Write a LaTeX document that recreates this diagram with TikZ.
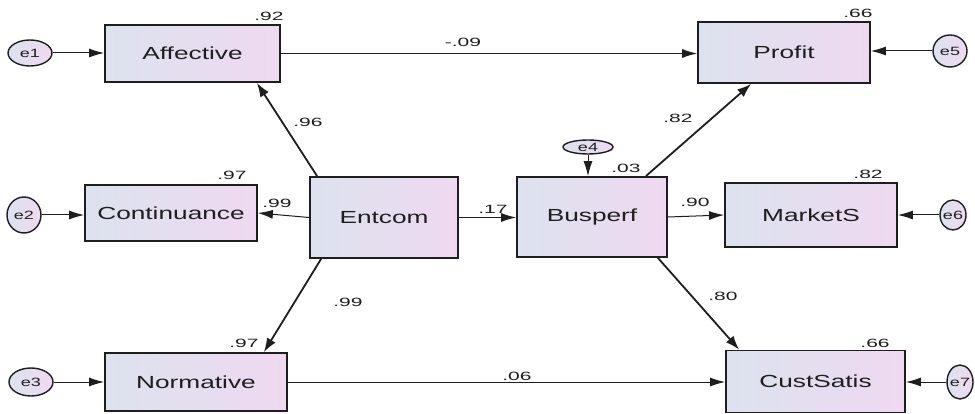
\documentclass[tikz,border=0pt]{standalone}
\usepackage{fontspec}
\setmainfont[FakeStretch=1.5]{Liberation Sans}
\newfontfamily\numfont[FakeStretch=1.75]{Liberation Sans}
\usetikzlibrary{shapes.geometric,arrows.meta,calc}
\definecolor{boxL}{HTML}{DCE2EE}
\definecolor{boxR}{HTML}{EFD9F1}
\definecolor{edge}{HTML}{1E1E1E}
\begin{document}
\begin{tikzpicture}[x=1pt,y=-1pt,
  var/.style={draw=edge,line width=1.8pt,left color=boxL,right color=boxR,inner sep=0pt,text=edge,font=\fontsize{17.5}{17.5}\selectfont},
  err/.style={ellipse,draw=edge,line width=1.4pt,left color=boxL,right color=boxR,inner sep=0pt},
  etext/.style={font=\fontsize{12}{12}\selectfont,inner sep=0pt,text=edge},
  conn/.style={draw=edge,line width=1.0pt,-{Latex[length=15pt,width=9pt]}},
  dconn/.style={draw=edge,line width=1.8pt,-{Latex[length=14pt,width=10pt]}},
  num/.style={font=\numfont\fontsize{12}{12}\selectfont,inner sep=0pt,text=edge},
]
\fill[white] (0,0) rectangle (975,414);
\useasboundingbox (0,0) rectangle (975,414);

% observed / latent variables
\node[var,minimum width=175pt,minimum height=57pt] (aff) at (192.5,53.5) {Affective};
\node[var,minimum width=172pt,minimum height=56pt] (con) at (171,213) {Continuance};
\node[var,minimum width=182pt,minimum height=58pt] (nor) at (196,382) {Normative};
\node[var,minimum width=148pt,minimum height=81pt] (ent) at (384,217.5) {Entcom};
\node[var,minimum width=150pt,minimum height=80pt] (bus) at (592,217) {Busperf};
\node[var,minimum width=172pt,minimum height=61pt] (pro) at (784,52.5) {Profit};
\node[var,minimum width=172pt,minimum height=64pt] (mkt) at (811,215) {MarketS};
\node[var,minimum width=179pt,minimum height=62pt] (cus) at (815.5,381.5) {CustSatis};

% error terms
\node[err,minimum width=44pt,minimum height=26pt,label={[etext]center:e1}] (e1) at (30,53) {};
\node[err,minimum width=34pt,minimum height=36pt,label={[etext]center:e2}] (e2) at (24,215) {};
\node[err,minimum width=44pt,minimum height=28pt,label={[etext]center:e3}] (e3) at (31,382) {};
\node[err,minimum width=50pt,minimum height=14pt,label={[etext]center:e4}] (e4) at (588,147) {};
\node[err,minimum width=34pt,minimum height=32pt,label={[etext]center:e5}] (e5) at (950,51) {};
\node[err,minimum width=26pt,minimum height=30pt,label={[etext]center:e6}] (e6) at (953,215) {};
\node[err,minimum width=26pt,minimum height=34pt,label={[etext]center:e7}] (e7) at (960,382) {};

% error arrows
\draw[conn] (e1) -- (e1 -| aff.west);
\draw[conn] (e2) -- (e2 -| con.west);
\draw[conn] (e3) -- (e3 -| nor.west);
\draw[conn] (e5) -- (e5 -| pro.east);
\draw[conn] (e6) -- (e6 -| mkt.east);
\draw[conn] (e7) -- (e7 -| cus.east);
\draw[conn] (e4) -- (e4 |- bus.north);

% structural paths
\draw[conn] (aff.east) -- (aff.east -| pro.west);
\draw[conn] (nor.east) -- (nor.east -| cus.west);
\draw[conn] (ent.east) -- (ent.east -| bus.west);
\draw[conn] (bus.east) -- (mkt.west);
\draw[conn] (ent.west) -- (con.east);
\draw[dconn] ($(ent.north west)+(8,0)$) -- ($(aff.south east)+(-24,0)$);
\draw[dconn] ($(ent.south west)+(12,0)$) -- ($(nor.north east)+(-24,0)$);
\draw[dconn] ($(bus.north east)+(-22,0)$) -- ($(pro.south west)+(54,0)$);
\draw[dconn] ($(bus.south east)+(-10,0)$) -- ($(cus.north west)+(14,0)$);

% coefficients
\node[num] (n1) at (269,16) {.92};
\node[num] (n2) at (232,175) {.97};
\node[num] (n3) at (244,343) {.97};
\node[num] (n4) at (858,13) {.66};
\node[num] (n5) at (868,174) {.82};
\node[num] (n6) at (875,343) {.66};
\node[num] (n7) at (626,168) {.03};
\node[num] (n8) at (463,42) {-.09};
\node[num] (n9) at (517,376) {.06};
\node[num] (n10) at (308,122) {.96};
\node[num] (n11) at (277,203) {.99};
\node[num] (n12) at (348,302) {.99};
\node[num] (n13) at (493,209) {.17};
\node[num] (n14) at (678,118) {.82};
\node[num] (n15) at (695,202) {.90};
\node[num] (n16) at (723,296) {.80};
\end{tikzpicture}
\end{document}
